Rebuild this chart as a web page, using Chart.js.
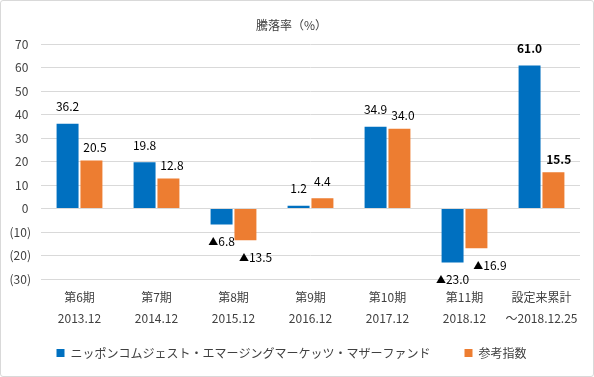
<!DOCTYPE html>
<html>
<head>
<meta charset="utf-8">
<script src="https://cdn.jsdelivr.net/npm/chart.js@4"></script>
<style>
  html, body { margin: 0; padding: 0; background: #fff; }
  #wrap {
    width: 594px; height: 377px; box-sizing: border-box;
    border: 1px solid #d9d9d9; border-radius: 3px; position: relative;
  }
</style>
</head>
<body>
<div id="wrap"><canvas id="c"></canvas></div>
<script>
// 期間ラベル（2行）
const categories = [
    ['第6期', '2013.12'],
    ['第7期', '2014.12'],
    ['第8期', '2015.12'],
    ['第9期', '2016.12'],
    ['第10期', '2017.12'],
    ['第11期', '2018.12'],
    ['設定来累計', '～2018.12.25']
];
const fundName = 'ニッポンコムジェスト・エマージングマーケッツ・マザーファンド';
const indexName = '参考指数';
const fundValues = [36.2, 19.8, -6.8, 1.2, 34.9, -23.0, 61.0];
const indexValues = [20.5, 12.8, -13.5, 4.4, 34.0, -16.9, 15.5];
const yMin = -30, yMax = 70, yStep = 10;

const FONT = '"Noto Sans CJK JP", "Noto Sans", sans-serif';

// 棒の上下に数値を描く（マイナスは▲表記）
const barLabels = {
    id: 'barLabels',
    afterDatasetsDraw(chart) {
        const ctx = chart.ctx;
        const prevRight = {}; // 青ラベルの右端（重なり回避用）
        chart.data.datasets.forEach((ds, i) => {
            chart.getDatasetMeta(i).data.forEach((bar, j) => {
                const v = ds.data[j];
                const num = Math.abs(v).toFixed(1);
                const numFont = (j === categories.length - 1 ? 'bold ' : '') + '12px ' + FONT;
                ctx.save();
                ctx.fillStyle = '#000';
                ctx.textBaseline = 'middle';
                ctx.textAlign = 'left';
                ctx.font = numFont;
                const numW = ctx.measureText(num).width;
                ctx.font = '10px ' + FONT;
                const triW = v < 0 ? ctx.measureText('▲').width : 0;
                const w = numW + triW;
                let x = bar.x - w / 2;
                let y = v < 0 ? bar.y + 17 : bar.y - 17;
                if (i === 1 && prevRight[j] !== undefined && x < prevRight[j] + 4) {
                    x = prevRight[j] + 4;
                    y += v < 0 ? 0 : 4;
                }
                if (i === 0) prevRight[j] = x + w;
                if (v < 0) ctx.fillText('▲', x, y);
                ctx.font = numFont;
                ctx.fillText(num, x + triW, y);
                ctx.restore();
            });
        });
    }
};

new Chart(document.getElementById('c'), {
    type: 'bar',
    data: {
        labels: categories,
        datasets: [{
            label: fundName + '\u3000\u3000',
            data: fundValues,
            backgroundColor: '#0070C0',
            categoryPercentage: 0.62,
            barPercentage: 0.92
        }, {
            label: indexName,
            data: indexValues,
            backgroundColor: '#ED7D31',
            categoryPercentage: 0.62,
            barPercentage: 0.92
        }]
    },
    options: {
        responsive: true,
        maintainAspectRatio: false,
        animation: false,
        layout: { padding: { left: 2, right: 13, top: 0, bottom: 7 } },
        plugins: {
            title: {
                display: true,
                text: '騰落率（%）',
                color: '#404040',
                font: { family: FONT, size: 12, weight: 'normal' },
                padding: { top: 17, bottom: 12 }
            },
            legend: {
                position: 'bottom',
                labels: {
                    color: '#404040',
                    font: { family: FONT, size: 12 },
                    boxWidth: 8,
                    boxHeight: 8,
                    padding: 10
                }
            },
            tooltip: { enabled: false }
        },
        scales: {
            y: {
                min: yMin,
                max: yMax,
                afterFit: scale => { scale.width = 38; },
                ticks: {
                    stepSize: yStep,
                    color: '#404040',
                    font: { family: FONT, size: 12 },
                    padding: 10,
                    callback: v => v < 0 ? '(' + (-v) + ')' : v + ' '
                },
                grid: { color: '#d9d9d9', drawTicks: false },
                border: { display: false }
            },
            x: {
                ticks: {
                    color: '#404040',
                    font: { family: FONT, size: 12, lineHeight: 1.75 },
                    padding: 8,
                    maxRotation: 0
                },
                grid: { display: false, drawTicks: false },
                border: { display: false }
            }
        }
    },
    plugins: [barLabels]
});
</script>
</body>
</html>
